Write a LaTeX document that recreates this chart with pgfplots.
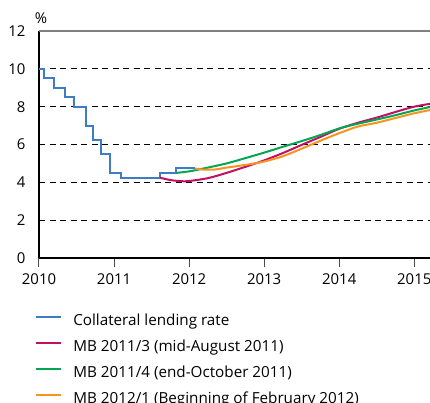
\documentclass[border=0pt]{standalone}
\usepackage{pgfplots}
\pgfplotsset{compat=1.18}
\usepackage{fontspec}
\setmainfont{Open Sans}
\definecolor{cblue}{RGB}{62,125,195}
\definecolor{cmag}{RGB}{192,16,100}
\definecolor{cgreen}{RGB}{0,166,81}
\definecolor{corange}{RGB}{247,148,29}
\begin{document}
\begin{tikzpicture}
\useasboundingbox (0,0) rectangle (430bp,403bp);
\begin{axis}[
  at={(39bp,145bp)}, anchor=south west,
  scale only axis, width=391bp, height=227bp,
  xmin=2010, xmax=2015.21, ymin=0, ymax=12,
  clip=false,
  axis lines*=left,
  axis line style={black, line width=1.2bp},
  xtick={2010,2011,2012,2013,2014,2015},
  ytick={0,2,4,6,8,10},
  extra y ticks={12},
  extra y tick style={grid style={gray, solid, line width=1.3bp}},
  ymajorgrids,
  grid style={black, dash pattern=on 6bp off 4.5bp, line width=0.8bp},
  ytick style={draw=none},
  xtick style={black!70, line width=1bp},
  major tick length=9bp,
  tick align=outside,
  /pgf/number format/1000 sep={},
  /pgf/number format/assume math mode=true,
  ticklabel style={font=\fontsize{15}{17}\selectfont},
  xticklabel style={yshift=-3bp},
  yticklabel style={xshift=-1bp},
  legend style={at={(-0.01,-0.25)}, anchor=north west, draw=none, fill=none,
    font=\fontsize{15.3}{18}\selectfont, row sep=12bp, inner sep=0pt,
    nodes={inner sep=0pt, text height=11bp, text depth=3bp}},
  legend cell align=left,
  legend image code/.code={\draw[#1, line width=2bp] (0bp,4.5bp) -- (25bp,4.5bp); \path (36bp,0bp);},
]
\addplot[cblue, line width=2bp, const plot] coordinates {
(2010.00,10) (2010.07,9.5) (2010.20,9.0) (2010.34,8.5) (2010.47,8.0)
(2010.62,7.0) (2010.72,6.25) (2010.83,5.5) (2010.94,4.5) (2011.09,4.25)
(2011.61,4.5) (2011.83,4.75) (2012.08,4.75)};
\addlegendentry{Collateral lending rate}
\addplot[cmag, line width=2bp, smooth] coordinates {
(2011.61,4.25) (2011.75,4.12) (2011.9,4.06) (2012.0,4.07) (2012.25,4.22)
(2012.5,4.5) (2012.75,4.82) (2013,5.16) (2013.25,5.55) (2013.5,5.98)
(2013.75,6.4) (2014,6.83) (2014.25,7.15) (2014.5,7.42) (2014.75,7.72)
(2015,8.0) (2015.21,8.15)};
\addlegendentry{MB 2011/3 (mid-August 2011)}
\addplot[cgreen, line width=2bp, smooth] coordinates {
(2011.83,4.5) (2012.0,4.58) (2012.25,4.78) (2012.5,5.0) (2012.75,5.28)
(2013,5.57) (2013.25,5.88) (2013.5,6.18) (2013.75,6.5) (2014,6.85)
(2014.25,7.1) (2014.5,7.32) (2014.75,7.55) (2015,7.8) (2015.21,7.98)};
\addlegendentry{MB 2011/4 (end-October 2011)}
\addplot[corange, line width=2bp, smooth] coordinates {
(2012.08,4.73) (2012.2,4.67) (2012.35,4.68) (2012.5,4.78) (2012.75,4.92)
(2013,5.1) (2013.25,5.38) (2013.5,5.78) (2013.75,6.2) (2014,6.6)
(2014.25,6.95) (2014.5,7.15) (2014.75,7.4) (2015,7.65) (2015.21,7.82)};
\addlegendentry{MB 2012/1 (Beginning of February 2012)}
\node[font=\fontsize{15}{17}\selectfont, inner sep=0pt] at ([xshift=2bp,yshift=13bp]rel axis cs:0,1) {\%};
\end{axis}
\end{tikzpicture}
\end{document}
